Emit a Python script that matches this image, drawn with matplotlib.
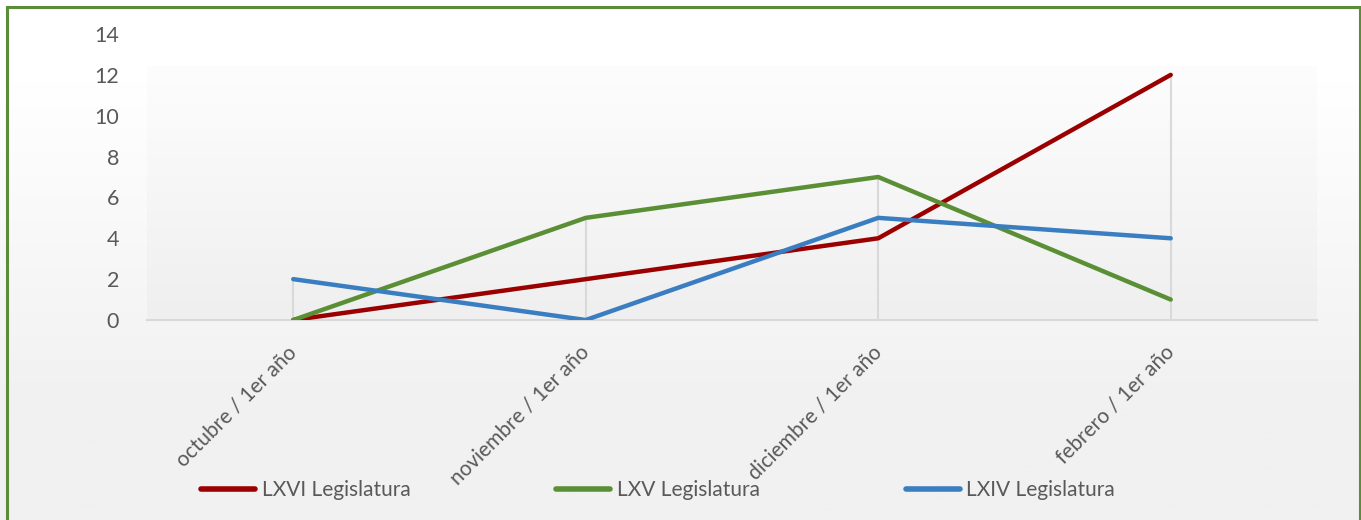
import numpy as np
import matplotlib
matplotlib.use("Agg")
import matplotlib.pyplot as plt
from matplotlib.patches import Rectangle

categories = ["octubre / 1er año", "noviembre / 1er año",
              "diciembre / 1er año", "febrero / 1er año"]
lxvi = [0, 2, 4, 12]
lxv = [0, 5, 7, 1]
lxiv = [2, 0, 5, 4]

series = [("LXVI Legislatura", lxvi, "#9b0000"),
          ("LXV Legislatura", lxv, "#5b8f35"),
          ("LXIV Legislatura", lxiv, "#3a7dc0")]

plt.rcParams["font.family"] = ["Lato", "DejaVu Sans"]
txt = "#595959"

fig = plt.figure(figsize=(13.61, 5.2), dpi=100)

# chart background: white fading to light grey toward the bottom
bg = fig.add_axes([0, 0, 1, 1], zorder=-10)
grad = np.linspace(0, 1, 256)[:, None]
bg.imshow(np.clip(grad * 1.6 - 0.35, 0, 1), cmap=matplotlib.colors.LinearSegmentedColormap.from_list(
    "bgg", ["#f1f1f1", "#ffffff"]), aspect="auto", extent=[0, 1, 0, 1], origin="lower")
bg.set_axis_off()
bg.add_patch(Rectangle((7 / 1361, -0.05), 1353 / 1361, 1.05 - 7 / 520,
                       fill=False, edgecolor="#5b8c3a", lw=2.2, transform=bg.transAxes))

ax = fig.add_axes([147 / 1361, 200 / 520, 1170 / 1361, 286 / 520])
ax.patch.set_alpha(0)
x = np.arange(len(categories))

# plot area gradient
ax.imshow(np.linspace(0, 1, 256)[:, None], cmap=matplotlib.colors.LinearSegmentedColormap.from_list(
    "pa", ["#efefef", "#fdfdfd"]), aspect="auto", extent=[-0.5, 3.5, 0, 12.4],
    origin="lower", zorder=0)

# drop lines from the highest point down to the axis
tops = np.max([lxvi, lxv, lxiv], axis=0)
ax.vlines(x, 0, tops, color="#d9d9d9", lw=1.5, zorder=1)

for name, vals, col in series:
    ax.plot(x, vals, color=col, lw=3.2, label=name, zorder=3,
            solid_capstyle="round")

ax.set_xlim(-0.5, 3.5)
ax.set_ylim(0, 14)
ax.set_yticks(np.arange(0, 15, 2))
ax.set_xticks(x)
ax.set_xticklabels(categories, rotation=45, ha="right", va="center",
                   rotation_mode="anchor", fontsize=15, color=txt)
ax.tick_params(axis="x", length=0, pad=21)
ax.tick_params(axis="y", length=0, pad=20, labelsize=15.5, labelcolor=txt)
for s in ["top", "right", "left"]:
    ax.spines[s].set_visible(False)
ax.spines["bottom"].set_color("#d9d9d9")
ax.spines["bottom"].set_linewidth(1.5)

leg = fig.legend(loc="center", bbox_to_anchor=(658 / 1361, 1 - 490 / 520), ncol=3,
                 frameon=False, fontsize=15, labelcolor=txt, handlelength=2.6,
                 handletextpad=0.3, columnspacing=7.0)
for h in leg.get_lines():
    h.set_linewidth(4)

fig.savefig("out.png", dpi=100)
